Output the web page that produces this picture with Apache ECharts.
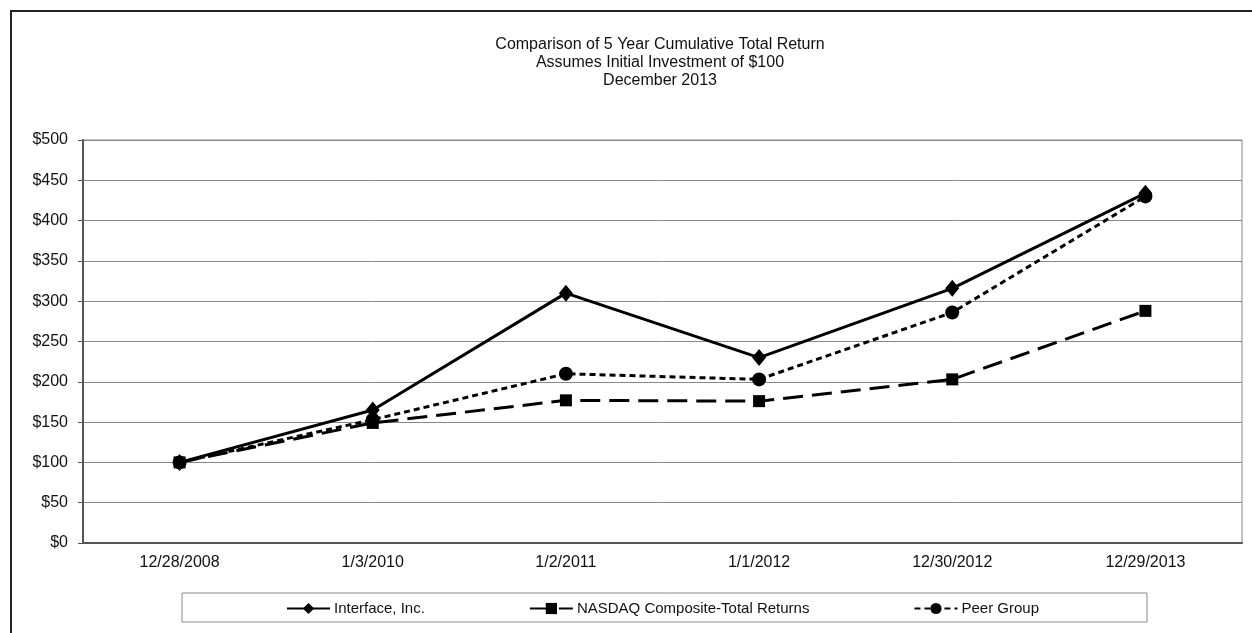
<!DOCTYPE html>
<html>
<head>
<meta charset="utf-8">
<script src="https://cdn.jsdelivr.net/npm/echarts@6/dist/echarts.min.js"></script>
<style>
html,body{margin:0;padding:0;background:#fff;}
#chart{width:1252px;height:633px;}
</style>
</head>
<body>
<div id="chart"></div>
<script>
const categories = ['12/28/2008', '1/3/2010', '1/2/2011', '1/1/2012', '12/30/2012', '12/29/2013'];
const interfaceInc = [100, 165, 310, 230, 316, 434];
const nasdaq = [100, 149, 177, 176, 203, 288];
const peerGroup = [100, 153, 210, 203, 286, 430];
const titleLines = ['Comparison of 5 Year Cumulative Total Return', 'Assumes Initial Investment of $100', 'December 2013'];
const seriesNames = ['Interface, Inc.', 'NASDAQ Composite-Total Returns', 'Peer Group'];

const FONT = '"Liberation Sans", Arial, sans-serif';
const chart = echarts.init(document.getElementById('chart'), null, {renderer: 'canvas'});
chart.setOption({
  backgroundColor: '#fff',
  animation: false,
  title: {
    text: titleLines.join('\n'),
    left: 660,
    textAlign: 'center',
    top: 36,
    padding: 0,
    textStyle: {fontFamily: FONT, fontSize: 16, fontWeight: 'normal', color: '#111', lineHeight: 18}
  },
  graphic: [
    {type: 'rect', shape: {x: 11, y: 11, width: 1300, height: 700}, style: {fill: 'none', stroke: '#222', lineWidth: 2}, silent: true, z: -1},
    {type: 'rect', shape: {x: 182, y: 593, width: 965, height: 29}, style: {fill: '#fff', stroke: '#888', lineWidth: 1}, silent: true, z: -1}
  ],
  legend: {
    left: 286,
    top: 601,
    padding: 0,
    itemWidth: 43,
    itemHeight: 14,
    itemGap: 104,
    textStyle: {fontFamily: FONT, fontSize: 15, color: '#111', padding: [0, 0, 0, -1]},
    data: seriesNames
  },
  grid: {
    left: 83, right: 10, top: 140, bottom: 90,
    show: true, borderColor: '#888', borderWidth: 1, backgroundColor: 'transparent'
  },
  xAxis: {
    type: 'category',
    data: categories,
    boundaryGap: true,
    axisLine: {lineStyle: {color: '#555', width: 2}},
    axisTick: {alignWithLabel: true, inside: true, length: 4, lineStyle: {color: '#888'}},
    axisLabel: {fontFamily: FONT, fontSize: 16, color: '#111', margin: 12}
  },
  yAxis: {
    type: 'value',
    min: 0, max: 500, interval: 50,
    axisLine: {show: true, lineStyle: {color: '#555', width: 2}},
    axisTick: {show: true, length: 5, lineStyle: {color: '#555'}},
    axisLabel: {fontFamily: FONT, fontSize: 16, color: '#111', margin: 15, formatter: '${value}'},
    splitLine: {lineStyle: {color: '#888', width: 1}}
  },
  series: [
    {
      name: seriesNames[0], type: 'line', data: interfaceInc,
      symbol: 'diamond', symbolSize: [14, 17],
      itemStyle: {color: '#000'},
      lineStyle: {color: '#000', width: 3, type: 'solid'},
      z: 4
    },
    {
      name: seriesNames[1], type: 'line', data: nasdaq,
      symbol: 'rect', symbolSize: 12,
      itemStyle: {color: '#000'},
      lineStyle: {color: '#000', width: 3, type: [20, 9]},
      z: 3
    },
    {
      name: seriesNames[2], type: 'line', data: peerGroup,
      symbol: 'circle', symbolSize: 14,
      itemStyle: {color: '#000'},
      lineStyle: {color: '#000', width: 3, type: [6, 4]},
      z: 3
    }
  ]
});
</script>
</body>
</html>
